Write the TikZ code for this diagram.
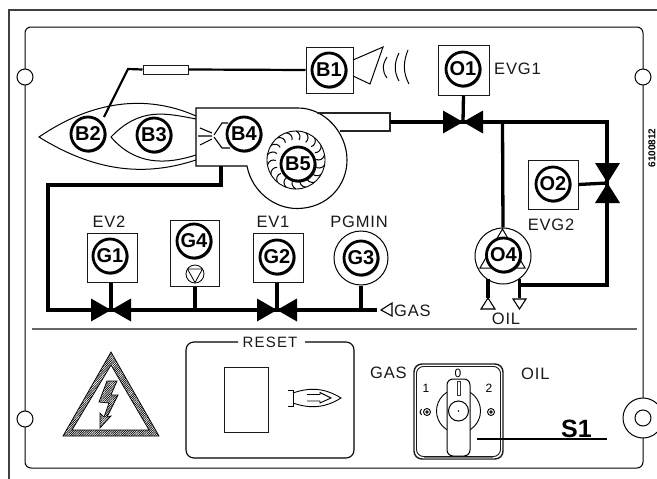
\documentclass[tikz,border=0pt]{standalone}
\usepackage{fontspec}
\setmainfont{Liberation Sans}
\usetikzlibrary{patterns.meta}
\tikzset{
 thin line/.style={line width=1pt,draw=black},
 pipe/.style={line width=3.3pt,draw=black,line join=miter},
 wire/.style={line width=2.2pt,draw=black},
 tagcirc/.style={circle,draw=black,line width=2.8pt,fill=white,inner sep=0pt,minimum size=34pt,font=\bfseries\fontsize{20}{20}\selectfont},
 boxn/.style={rectangle,draw=black!90,line width=1pt,fill=white,inner sep=0pt},
 lbl/.style={inner sep=0pt,text=black!90,font=\fontsize{16.5}{17}\selectfont\addfontfeature{LetterSpace=5}},
 valveh/.style={fill=black,draw=none},
 hatch/.style={pattern={Lines[angle=45,distance=1.6pt,line width=0.7pt]},pattern color=black},
}
\newcommand{\tagc}[3]{\draw[line width=0.7pt,black!80] ([shift={(0.9,0.9)}]#2) circle (17.3);\node[tagcirc] (#1) at (#2) {#3};}
\newcommand{\bowh}[2]{\coordinate (#1) at (#2);\fill[valveh] ([shift={(-20,-11.5)}]#1) -- ([shift={(-20,11.5)}]#1) -- ([shift={(20,-11.5)}]#1) -- ([shift={(20,11.5)}]#1) -- cycle;}
\begin{document}
\begin{tikzpicture}[x=1pt,y=-1pt]
\useasboundingbox (0,0) rectangle (657,479);
\clip (0,0) rectangle (657,479);
\fill[white] (0,0) rectangle (657,479);
% frames
\draw[line width=1.2pt,black!75] (9,479) -- (9,10) -- (657,10);
\draw[thin line,rounded corners=6pt] (25,468) -- (25,27) -- (643,27) -- (643,468) -- cycle;
\draw[line width=1.2pt,black!60] (32,329) -- (637,329);
\foreach \n/\p in {ha/{25,77},hb/{643,77},hc/{25,419}}{\node[circle,draw=black,line width=1pt,fill=white,minimum size=16pt,inner sep=0pt] (\n) at (\p) {};}
\node[circle,draw=black,line width=1pt,fill=white,minimum size=40pt,inner sep=0pt] (hd) at (643,418) {};
\node[circle,draw=black,line width=1pt,minimum size=16pt,inner sep=0pt] (he) at (643,418) {};
% flames
\draw[line width=1pt] (196,116) .. controls (160,100) and (105,92) .. (39,137) .. controls (100,175) and (150,175) .. (196,160);
\draw[line width=1pt] (196,119) .. controls (165,113) and (140,107) .. (111,137) .. controls (135,165) and (165,165) .. (196,155);
% housing
\draw[line width=1.1pt,fill=white] (247,166) .. controls (252,192) and (275,209) .. (298,208.5) .. controls (327,208) and (347,186) .. (347,160) .. controls (347,133) and (325,108) .. (298,108) -- (196,108) -- (196,166) -- cycle;
\coordinate (tubeend) at (390,122);
\draw[line width=1.1pt,black!85] (317,113) -- (390,113) -- (390,131) -- (340,131);
% fan
\draw[line width=0.9pt] (296,160) circle (29);
\foreach \a in {0,20,...,340}{\draw[line width=1pt,rotate around={\a:(296,160)}] (296,131) .. controls (300,133) and (301,137) .. (299,140);}
% nozzle
\draw[line width=1.1pt] (198,136) -- (212,136) (200,128) -- (212,133) (200,145) -- (212,139);
\draw[line width=1.1pt] (214,135) -- (222,123) -- (228,123) (214,137) -- (222,148) -- (230,148);
% B1 line
\node[boxn,minimum width=47pt,minimum height=46pt] (b1box) at (329.5,70) {};
\node[boxn,minimum width=45pt,minimum height=9pt] (res) at (165.5,69.5) {};
\coordinate (kink) at (128,69);
\coordinate (b2end) at (104,117);
\draw[wire] (b1box.west) -- (res.east);
\draw[wire] (res.west) -- (kink) -- (b2end);
\tagc{B1}{329,70}{B1}
\draw[line width=1pt] (353,60) -- (383,47) -- (370,84) -- (353,76);
\draw[line width=1pt] (387,57) .. controls (382,65) and (382,71) .. (387,78);
\draw[line width=1pt] (399,53) .. controls (394,63) and (394,72) .. (399,81);
\draw[line width=1pt] (408,50) .. controls (403,62) and (403,73) .. (409,84);
\tagc{B2}{88,134}{B2}
\tagc{B3}{154,135}{B3}
\tagc{B4}{244,134}{B4}
\tagc{B5}{298,164}{B5}
% gas pipe
\coordinate (gasout) at (221,166);
\coordinate (gaselbow) at (221,185);
\coordinate (gascorner) at (48,185);
\coordinate (gasleft) at (48,310);
\coordinate (gasend) at (377,310);
\draw[pipe] (gasout) -- (gaselbow) -- (gascorner) -- (gasleft) -- (gasend);
\bowh{v2}{111,310}
\bowh{v1}{277,310}
\node[boxn,minimum width=50pt,minimum height=49pt] (g1box) at (112,257.5) {};
\node[boxn,minimum width=49pt,minimum height=66pt] (g4box) at (194.5,253) {};
\node[boxn,minimum width=50pt,minimum height=49pt] (g2box) at (278,257.5) {};
\coordinate (g4j) at (195,310);
\draw[pipe] (g1box.south -| v2) -- (v2);
\draw[pipe] (g4box.south -| g4j) -- (g4j);
\draw[pipe] (g2box.south -| v1) -- (v1);
\tagc{G1}{110,256}{G1}
\tagc{G4}{194,241}{G4}
\tagc{G2}{277,257}{G2}
\node[circle,draw=black,line width=0.8pt,minimum size=18pt,inner sep=0pt] (g4p) at (195,274) {};
\draw[line width=0.8pt] (187.5,269) -- (202.5,269) -- (195,282.5) -- cycle;
\node[circle,draw=black,line width=1pt,fill=white,minimum size=54pt,inner sep=0pt] (g3ring) at (361,258) {};
\coordinate (g3j) at (361,310);
\draw[pipe] (g3ring.south) -- (g3j);
\tagc{G3}{361,258}{G3}
\draw[line width=1.1pt] (392,303) -- (381,310) -- (392,316) -- cycle;
\node[lbl,anchor=west] (gast) at (394,311) {GAS};
\node[lbl] (ev2) at (109,222) {EV2};
\node[lbl] (ev1) at (273,222) {EV1};
\node[lbl] (pg) at (359,222) {PGMIN};
% oil
\bowh{v3}{463,122}
\coordinate (j1) at (502.5,122);
\coordinate (cr) at (607,122);
\draw[pipe] (tubeend) -- (v3);
\draw[pipe] (v3) -- (cr) -- (607,183);
\node[boxn,minimum width=51pt,minimum height=50pt] (o1box) at (463.5,70) {};
\draw[pipe] (o1box.south) -- (v3);
\tagc{O1}{463,69}{O1}
\node[lbl,anchor=west] (evg1) at (494,69) {EVG1};
\node[boxn,minimum width=50pt,minimum height=49pt] (o2box) at (553,184.5) {};
\tagc{O2}{553,184}{O2}
\node[lbl] (evg2) at (551,225) {EVG2};
\coordinate (v4) at (607,183);
\draw[pipe] (o2box.east) -- (v4);
\draw[pipe] (v4) -- (607,285) -- (519,285);
\fill (595,163) -- (620,163) -- (595,203) -- (620,203) -- cycle;
\node[circle,draw=black,line width=1pt,fill=white,minimum size=56pt,inner sep=0pt] (o4ring) at (503,256) {};
\draw[pipe] (j1) -- (o4ring.north);
\draw[line width=1pt] (502.5,229) -- (525,268) -- (480,268) -- cycle;
\tagc{O4}{503.5,255}{O4}
\coordinate (ol) at (488,298);
\coordinate (orr) at (519.5,298);
\draw[pipe] (488,279) -- (ol);
\draw[pipe] (519.5,279) -- (orr);
\draw[line width=1.1pt] (ol) -- (481,309) -- (495,309) -- cycle;
\draw[line width=1.1pt] (513,299) -- (526,299) -- (519.5,309) -- cycle;
\node[lbl] (oilt) at (506,319) {OIL};
\node[rotate=90,inner sep=0pt,font=\bfseries\fontsize{10}{10}\selectfont] (code) at (652,148) {6100812};
% warning
\path[hatch,even odd rule] (111,352) -- (159,436) -- (63,436) -- cycle (111,365) -- (72,430) -- (149,430) -- cycle;
\draw[line width=0.7pt] (111,352) -- (159,436) -- (63,436) -- cycle (111,365) -- (72,430) -- (149,430) -- cycle;
\path[hatch] (107,381) -- (117,381) -- (111,395) -- (118,395) -- (107,417) -- (111,416) -- (100,428) -- (100,413) -- (104,417) -- (109,403) -- (99,402) -- cycle;
\draw[line width=0.7pt] (107,381) -- (117,381) -- (111,395) -- (118,395) -- (107,417) -- (111,416) -- (100,428) -- (100,413) -- (104,417) -- (109,403) -- (99,402) -- cycle;
% reset
\draw[line width=1.1pt,rounded corners=8pt] (238,342) -- (186,342) -- (186,458) -- (354,458) -- (354,342) -- (305,342);
\node[lbl,font=\fontsize{15}{15}\selectfont\addfontfeature{LetterSpace=8}] (reset) at (270,342) {RESET};
\node[boxn,minimum width=44pt,minimum height=65pt] (rbtn) at (246,399.5) {};
\draw[line width=0.9pt] (288,390) -- (293,390) -- (293,406) -- (288,406);
\draw[line width=0.9pt] (293,393) .. controls (310,387) and (325,388) .. (341,398) .. controls (325,408) and (310,409) .. (293,403);
\draw[line width=0.9pt] (307,394.5) -- (320,394.5) -- (320,392.5) -- (331,398) -- (320,403) -- (320,401) -- (307,401);
% switch
\node[lbl,anchor=west] (gassw) at (370,372.5) {GAS};
\node[lbl,anchor=west] (oilsw) at (521,374) {OIL};
\draw[line width=1.4pt,black!90,rounded corners=8pt] (414,364) rectangle (503,459);
\draw[line width=0.9pt,black!90,rounded corners=7pt] (416.5,366.5) rectangle (500.5,456.5);
\draw[line width=2pt,black!50] (424,458) -- (493,458);
\draw[line width=0.9pt] (458.5,411) circle (22);
\node[inner sep=0pt,font=\fontsize{12}{12}\selectfont] (s0) at (458,373) {0};
\node[inner sep=0pt,font=\fontsize{12}{12}\selectfont] (s1) at (426,388) {1};
\node[inner sep=0pt,font=\fontsize{12}{12}\selectfont] (s2) at (489,388) {2};
\draw[line width=0.9pt] (427,412) circle (3.5) (427,412) circle (1.2) (491,412) circle (3.5) (491,412) circle (1.2);
\draw[line width=0.9pt] (421.5,409) .. controls (419.5,411) and (419.5,413) .. (421.5,415);
\draw[line width=1pt,fill=white,rounded corners=6pt] (447,456) rectangle (470,379);
\draw[line width=0.8pt,black!80] (457,381) rectangle (460,395);
\node[circle,draw=black,line width=1pt,fill=white,minimum size=20pt,inner sep=0pt] (knob) at (458.5,411) {};
\fill (knob.center) circle (0.9);
\coordinate (s1a) at (477,439);
\coordinate (s1b) at (607,439);
\draw[line width=1.8pt] (s1a) -- (s1b);
\node[inner sep=0pt,font=\bfseries\fontsize{25}{25}\selectfont,anchor=base west] (s1lab) at (561,437.5) {S1};
\end{tikzpicture}
\end{document}
